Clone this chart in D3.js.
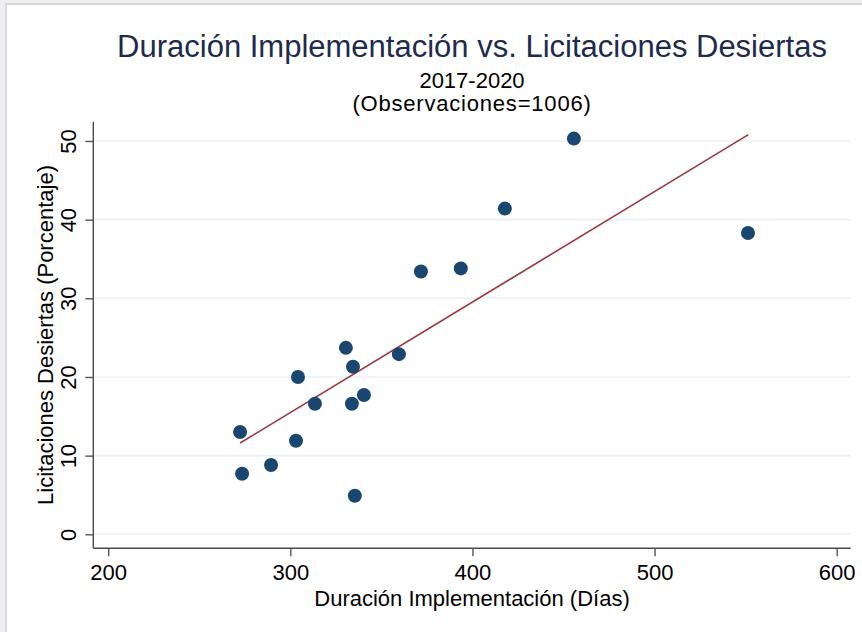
<!DOCTYPE html>
<html>
<head>
<meta charset="utf-8">
<script src="https://cdn.jsdelivr.net/npm/d3@7"></script>
<style>
  html, body { margin: 0; padding: 0; background: #ffffff; }
  svg { display: block; }
  text { font-family: "Liberation Sans", Arial, sans-serif; }
</style>
</head>
<body>
<script>
(function(){
  //data: duration (days) and share of deserted tenders (%)
  var duracion = [272.4, 273.5, 289.4, 303.1, 304.2, 313.5, 330.5, 333.8, 334.4, 335.4, 340.4, 359.6, 371.7, 393.6, 417.8, 455.7, 551.3];
  var desiertas = [13.0, 7.7, 8.8, 11.9, 20.0, 16.6, 23.7, 16.6, 21.3, 4.9, 17.7, 22.9, 33.4, 33.8, 41.4, 50.3, 38.3];
  //fitted line end points
  var fitX = [272.4, 551.5];
  var fitY = [11.6, 50.8];
  var xTicks = [200, 300, 400, 500, 600];
  var yTicks = [0, 10, 20, 30, 40, 50];

  var titulo = "Duración Implementación vs. Licitaciones Desiertas",
      subtitulo1 = "2017-2020",
      subtitulo2 = "(Observaciones=1006)",
      xTitulo = "Duración Implementación (Días)",
      yTitulo = "Licitaciones Desiertas (Porcentaje)";

  var width = 862, height = 632;
  var plotLeft = 93.3, plotRight = 850.7, plotTop = 121.7, plotBottom = 548.3;

  var svg = d3.select("body").append("svg")
      .attr("width", width)
      .attr("height", height);

  //frame of the screenshot
  svg.append("rect").attr("x", 0).attr("y", 0).attr("width", width).attr("height", height).attr("fill", "#eceef2");
  svg.append("rect").attr("x", 5).attr("y", 3).attr("width", width - 5).attr("height", height - 3).attr("fill", "#d8d8d8");
  svg.append("rect").attr("x", 7).attr("y", 5).attr("width", width - 7).attr("height", height - 5).attr("fill", "#ffffff");

  var x = d3.scaleLinear().domain([191.8, 607.7]).range([plotLeft, plotRight]);
  var y = d3.scaleLinear().domain([-1.78, 52.45]).range([plotBottom, plotTop]);

  //grid lines
  svg.append("g").attr("class", "grid")
    .selectAll("line")
    .data(yTicks)
    .enter()
    .append("line")
    .attr("x1", plotLeft)
    .attr("x2", plotRight)
    .attr("y1", function(d){ return y(d); })
    .attr("y2", function(d){ return y(d); })
    .attr("stroke", "#eaf1f3")
    .attr("stroke-width", 1.6);

  //y axis
  var yAxis = svg.append("g")
    .attr("transform", "translate(" + plotLeft + ",0)")
    .call(d3.axisLeft(y).tickValues(yTicks).tickSize(8).tickPadding(0).tickSizeOuter(0));
  yAxis.select(".domain").attr("stroke", "#4a4a4a").attr("stroke-width", 1.4)
    .attr("d", "M0," + plotTop + "V" + plotBottom);
  yAxis.selectAll(".tick line").attr("stroke", "#4a4a4a").attr("stroke-width", 1.3);
  yAxis.selectAll(".tick text")
    .attr("x", null).attr("dy", null)
    .attr("text-anchor", "middle")
    .attr("transform", "translate(-17,0) rotate(-90)")
    .attr("font-size", 22)
    .attr("fill", "#000");

  //x axis
  var xAxis = svg.append("g")
    .attr("transform", "translate(0," + plotBottom + ")")
    .call(d3.axisBottom(x).tickValues(xTicks).tickSize(8).tickPadding(0).tickSizeOuter(0));
  xAxis.select(".domain").attr("stroke", "#4a4a4a").attr("stroke-width", 1.4)
    .attr("d", "M" + plotLeft + ",0H" + plotRight);
  xAxis.selectAll(".tick line").attr("stroke", "#4a4a4a").attr("stroke-width", 1.3);
  xAxis.selectAll(".tick text")
    .attr("y", 32.2).attr("dy", null)
    .attr("font-size", 22)
    .attr("fill", "#000");

  //fitted line
  var line = d3.line()
    .x(function(d){ return x(d[0]); })
    .y(function(d){ return y(d[1]); });
  svg.append("path")
    .datum(d3.zip(fitX, fitY))
    .attr("d", line)
    .attr("fill", "none")
    .attr("stroke", "#9a3a40")
    .attr("stroke-width", 1.6);

  //points
  svg.append("g").attr("class", "dots")
    .selectAll("circle")
    .data(d3.zip(duracion, desiertas))
    .enter()
    .append("circle")
    .attr("cx", function(d){ return x(d[0]); })
    .attr("cy", function(d){ return y(d[1]); })
    .attr("r", 7)
    .attr("fill", "#1a476f");

  //titles
  var cx = (plotLeft + plotRight) / 2;
  svg.append("text")
    .attr("x", cx).attr("y", 57)
    .attr("text-anchor", "middle")
    .attr("font-size", 31)
    .attr("fill", "#1e2b4d")
    .text(titulo);
  svg.append("text")
    .attr("x", cx).attr("y", 88)
    .attr("text-anchor", "middle")
    .attr("font-size", 22)
    .attr("fill", "#000")
    .text(subtitulo1);
  svg.append("text")
    .attr("x", cx).attr("y", 111)
    .attr("text-anchor", "middle")
    .attr("font-size", 22)
    .attr("letter-spacing", "0.8px")
    .attr("fill", "#000")
    .text(subtitulo2);
  svg.append("text")
    .attr("x", cx).attr("y", 605.5)
    .attr("text-anchor", "middle")
    .attr("font-size", 22)
    .attr("fill", "#000")
    .text(xTitulo);
  svg.append("text")
    .attr("transform", "translate(53," + ((plotTop + plotBottom) / 2) + ") rotate(-90)")
    .attr("text-anchor", "middle")
    .attr("font-size", 22)
    .attr("fill", "#000")
    .text(yTitulo);
})();
</script>
</body>
</html>
